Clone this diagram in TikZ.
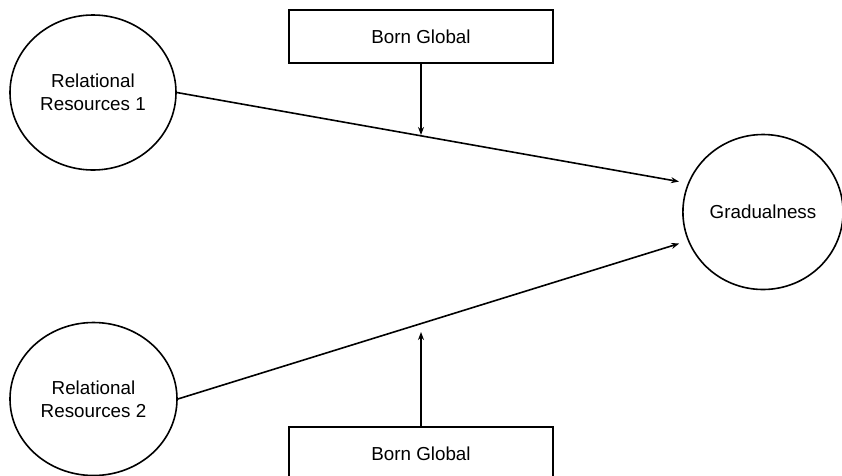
\documentclass[tikz,border=0pt]{standalone}
\usepackage{fontspec}
\setmainfont{Liberation Sans}
\usetikzlibrary{shapes.geometric,arrows.meta}
\tikzset{
  blob/.style={draw, ellipse, line width=1.6pt, align=center,
    font=\fontsize{18.8}{23}\selectfont},
  bgbox/.style={draw, rectangle, line width=1.6pt, minimum width=264pt,
    minimum height=53pt, font=\fontsize{18.8}{23}\selectfont},
  link/.style={line width=1.6pt, -{Stealth[length=8pt,width=6pt]}}
}
\begin{document}
\begin{tikzpicture}[x=1pt,y=-1pt]
  \useasboundingbox (0,0) rectangle (842,475);
  % constructs
  \node[blob, minimum width=166pt, minimum height=155pt] (rr1) at (93,92.5) {Relational\\Resources 1};
  \node[blob, minimum width=167pt, minimum height=153pt] (rr2) at (93.5,399) {Relational\\Resources 2};
  \node[blob, minimum width=157pt, minimum height=155pt] (grad) at (763,212) {Gradualness};
  % moderators
  \node[bgbox] (bg1) at (421,36.5) {Born Global};
  \node[bgbox] (bg2) at (421,453.5) {Born Global};
  \coordinate (m1) at (421,135);
  \coordinate (m2) at (421,332);
  % paths
  \draw[link, shorten >=9pt] (rr1.east) -- (grad.159);
  \draw[link, shorten >=9pt] (rr2.east) -- (grad.201);
  \draw[link] (bg1.south) -- (m1);
  \draw[link] (bg2.north) -- (m2);
\end{tikzpicture}
\end{document}
